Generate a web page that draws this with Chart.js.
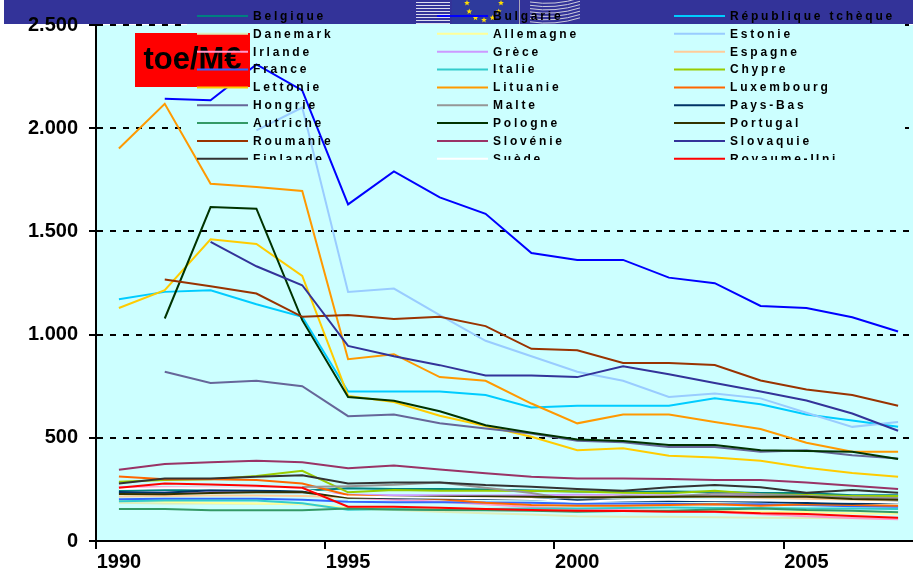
<!DOCTYPE html>
<html>
<head>
<meta charset="utf-8">
<script src="https://cdn.jsdelivr.net/npm/chart.js@4"></script>
<style>
html,body{margin:0;padding:0;overflow:hidden;background:#fff}
</style>
</head>
<body>
<canvas id="intensity" width="921" height="576"></canvas>
<script>
// energy intensity, toe per million euro
var years = ['1990','1991','1992','1993','1994','1995','1996','1997','1998','1999','2000','2001','2002','2003','2004','2005','2006','2007'];

var belgique   = [245,248,245,245,243,255,252,252,250,245,240,238,240,238,232,232,222,222];
var bulgarie   = [null,2143,2135,2309,2183,1631,1791,1665,1585,1395,1362,1362,1276,1249,1139,1129,1084,1015];
var tcheque    = [1171,1207,1215,1147,1086,724,724,724,707,647,655,655,655,691,663,613,584,553];
var danemark   = [185,182,182,180,178,155,150,142,135,128,120,118,117,115,113,112,110,108];
var allemagne  = [200,190,185,182,180,160,160,158,155,150,148,148,146,145,142,140,135,132];
var estonie    = [null,null,null,1989,2100,1207,1223,1094,970,895,820,776,698,715,691,621,553,577];
var irlande    = [262,260,258,255,250,210,200,190,178,165,155,150,145,140,130,120,112,105];
var grece      = [232,235,237,238,236,225,222,222,220,222,224,222,222,220,218,212,208,205];
var espagne    = [215,218,220,220,218,212,210,212,210,212,214,215,215,214,210,205,200,195];
var france     = [202,205,205,205,200,190,188,188,187,185,180,182,180,178,178,175,168,166];
var italie     = [192,196,196,196,183,152,155,152,155,158,158,160,162,160,160,158,158,155];
var chypre     = [287,295,299,315,340,236,247,243,243,242,240,234,231,243,226,223,218,218];
var lettonie   = [1129,1215,1462,1439,1284,703,673,607,557,505,440,449,413,405,389,355,329,311];
var lituanie   = [1902,2118,1731,1715,1696,881,905,794,776,666,570,613,613,577,543,476,432,432];
var luxembourg = [313,299,299,295,279,223,212,202,185,174,171,171,174,178,171,178,174,171];
var hongrie    = [null,820,766,776,750,605,613,570,545,521,486,478,456,456,432,440,416,400];
var malte      = [null,null,null,null,262,265,272,284,258,232,196,218,214,230,226,218,212,208];
var paysBas    = [238,234,246,244,240,212,207,207,204,202,198,196,194,194,190,184,180,186];
var autriche   = [155,155,149,149,149,158,153,150,149,147,142,145,147,153,158,150,147,139];
var pologne    = [null,1078,1618,1610,1070,698,679,629,561,524,492,484,465,465,440,436,432,397];
var portugal   = [228,226,232,236,236,210,212,214,216,214,212,212,214,216,214,214,204,200];
var roumanie   = [null,1267,1234,1199,1086,1095,1076,1086,1041,931,924,863,863,853,778,734,707,655];
var slovenie   = [345,373,381,389,381,353,366,347,328,311,303,303,300,295,295,284,268,252];
var slovaquie  = [null,null,1449,1331,1239,945,895,852,802,802,794,847,808,766,724,681,618,534];
var finlande   = [279,303,303,311,319,279,284,284,271,263,252,243,260,271,260,234,247,234];
var suede      = [252,256,256,254,250,215,212,210,207,204,190,198,200,198,196,194,190,186];
var royaumeUni = [258,279,274,268,258,166,166,161,155,150,147,145,142,142,134,131,121,113];

var countries = ['Belgique','Bulgarie','République tchèque','Danemark','Allemagne','Estonie','Irlande','Grèce','Espagne',
  'France','Italie','Chypre','Lettonie','Lituanie','Luxembourg','Hongrie','Malte','Pays-Bas',
  'Autriche','Pologne','Portugal','Roumanie','Slovénie','Slovaquie','Finlande','Suède','Royaume-Uni'];
var colours = ['#008080','#0000ff','#00ccff','#ddeebb','#ffff99','#99ccff','#ff99cc','#cc99ff','#ffcc99',
  '#3366ff','#33cccc','#99cc00','#ffcc00','#ff9900','#ff6600','#666699','#969696','#003366',
  '#339966','#003300','#333300','#993300','#993366','#333399','#333333','#ffffff','#ff0000'];
var values = [belgique,bulgarie,tcheque,danemark,allemagne,estonie,irlande,grece,espagne,
  france,italie,chypre,lettonie,lituanie,luxembourg,hongrie,malte,paysBas,
  autriche,pologne,portugal,roumanie,slovenie,slovaquie,finlande,suede,royaumeUni];

function star(c, x, y, r) {
  c.beginPath();
  for (var k = 0; k < 10; k++) {
    var a = -Math.PI / 2 + k * Math.PI / 5;
    var rr = k % 2 ? r * 0.45 : r;
    c.lineTo(x + rr * Math.cos(a), y + rr * Math.sin(a));
  }
  c.closePath();
  c.fill();
}

var backdrop = {
  id: 'backdrop',
  beforeDraw: function(chart) {
    var c = chart.ctx, a = chart.chartArea;
    c.save();
    c.fillStyle = '#fff';
    c.fillRect(0, 0, chart.width, chart.height);
    // header band
    c.fillStyle = '#333399';
    c.fillRect(4, 0, chart.width, 24);
    c.strokeStyle = '#dde';
    c.lineWidth = 1;
    for (var y = 2.5; y < 24; y += 3) {
      c.beginPath(); c.moveTo(416, y); c.lineTo(450, y); c.stroke();
    }
    c.fillStyle = '#2e3a9c';
    c.fillRect(452, 0, 66, 24);
    c.fillStyle = '#ffdd00';
    for (var k = 0; k <= 6; k++) {
      var t = k * Math.PI / 6;
      star(c, 484 + 17 * Math.cos(t), 3 + 17 * Math.sin(t), 3);
    }
    c.strokeStyle = '#aab';
    c.beginPath(); c.moveTo(519.5, 0); c.lineTo(519.5, 24); c.stroke();
    c.strokeStyle = '#ccd';
    for (var j = 0; j < 7; j++) {
      c.beginPath();
      c.moveTo(530, 2 + j * 3.3);
      c.quadraticCurveTo(555, 6 + j * 3.3, 580, -2 + j * 3.3);
      c.stroke();
    }
    // plot area
    c.fillStyle = '#ccffff';
    c.fillRect(a.left, a.top, a.right - a.left, a.bottom - a.top);
    c.restore();
  },
  beforeDatasetsDraw: function(chart) {
    // legend box hides the grid behind it
    var c = chart.ctx, a = chart.chartArea;
    c.save();
    c.fillStyle = '#ccffff';
    c.fillRect(187, a.top - 1, 905 - 187, 160 - a.top + 1);
    c.restore();
  }
};

var overlay = {
  id: 'overlay',
  afterDatasetsDraw: function(chart) {
    var c = chart.ctx;
    c.save();
    // unit label
    c.fillStyle = '#ff0000';
    c.fillRect(135, 33, 115, 54);
    c.fillStyle = '#000';
    c.font = 'bold 31px Arial';
    c.textAlign = 'center';
    c.textBaseline = 'alphabetic';
    c.fillText('toe/M€', 192.5, 68.5);
    // legend, three columns
    c.beginPath();
    c.rect(0, 0, chart.width, 160);
    c.clip();
    var lineX = [197, 437, 674], textX = [253, 493, 730];
    c.font = 'bold 12px Arial';
    c.textAlign = 'left';
    c.textBaseline = 'middle';
    c.letterSpacing = '2.8px';
    c.lineWidth = 2;
    countries.forEach(function(name, i) {
      var col = i % 3, row = Math.floor(i / 3);
      var y = 16 + row * 17.85;
      c.strokeStyle = colours[i];
      c.beginPath();
      c.moveTo(lineX[col], y);
      c.lineTo(lineX[col] + 51, y);
      c.stroke();
      c.fillStyle = '#000';
      c.fillText(name, textX[col], y + 0.5);
    });
    c.restore();
  }
};

var axisFont = {family: 'Arial', size: 20, weight: 'bold'};

var ctx = document.getElementById('intensity').getContext('2d');
var intensityChart = new Chart(ctx, {
  type: 'line',
  data: {
    labels: years,
    datasets: countries.map(function(name, i) {
      return {
        label: name,
        data: values[i],
        borderColor: colours[i],
        backgroundColor: colours[i],
        borderWidth: 2,
        pointRadius: 0,
        tension: 0,
        fill: false,
        order: countries.length - i
      };
    })
  },
  options: {
    responsive: false,
    animation: false,
    events: [],
    layout: {padding: {top: 25, right: 0, bottom: 0, left: 0}},
    plugins: {
      legend: {display: false},
      tooltip: {enabled: false}
    },
    scales: {
      x: {
        offset: true,
        grid: {
          offset: true,
          drawOnChartArea: false,
          tickLength: 8,
          lineWidth: 2,
          color: function(c) { return c.index % 5 === 0 ? '#000' : 'rgba(0,0,0,0)'; }
        },
        border: {color: '#000', width: 2},
        ticks: {
          autoSkip: false,
          maxRotation: 0,
          padding: 1,
          color: '#000',
          font: axisFont,
          callback: function(v, i) { return i % 5 === 0 ? years[i] : ''; }
        },
        afterFit: function(s) { s.height = 35; }
      },
      y: {
        min: 0,
        max: 2500,
        grid: {color: '#000', lineWidth: 2, tickLength: 7},
        border: {color: '#000', width: 2, dash: [6, 7]},
        ticks: {
          stepSize: 500,
          padding: 11,
          color: '#000',
          font: axisFont,
          callback: function(v) {
            return v >= 1000 ? Math.floor(v / 1000) + '.' + String(v % 1000).padStart(3, '0') : String(v);
          }
        },
        afterFit: function(s) { s.width = 96; }
      }
    }
  },
  plugins: [backdrop, overlay]
});
</script>
</body>
</html>
